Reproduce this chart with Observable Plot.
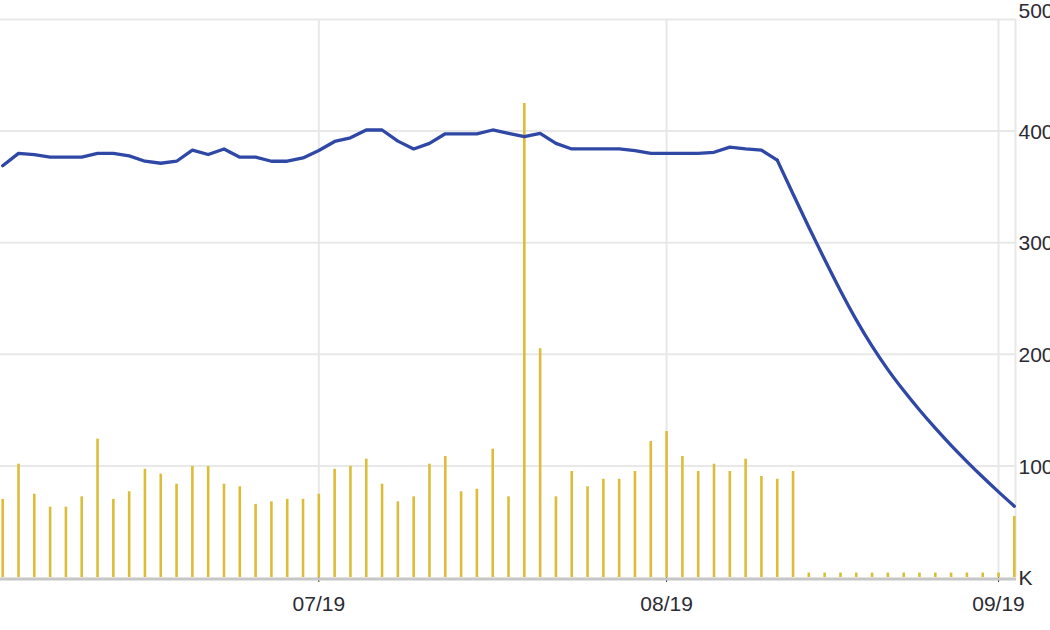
<!DOCTYPE html>
<html>
<head>
<meta charset="utf-8">
<script src="https://cdn.jsdelivr.net/npm/d3@7"></script>
<script src="https://cdn.jsdelivr.net/npm/@observablehq/plot@0.6"></script>
<style>
  html, body { margin: 0; padding: 0; background: #fff; overflow: hidden; }
  #chart svg { display: block; }
</style>
</head>
<body>
<div id="chart"></div>
<script>
// Daily volume bars (thousands), one per trading day
const volume = [
  70, 101.5, 74.6, 63, 63, 72.3, 124, 70, 76.8, 97,
  92.6, 83.6, 99.5, 99.5, 83.6, 81.3, 65.4, 67.8, 70, 70,
  74.6, 97, 99.5, 106, 83.6, 67.8, 72.3, 101.5, 108.4, 76.8,
  79.1, 115, 72.3, 424.7, 205, 72.3, 95, 81.3, 88, 88,
  95, 121.9, 130.8, 108.4, 95, 101.5, 95, 106, 90.5, 88,
  95, 4, 4, 4, 4, 4, 4, 4, 4, 4,
  4, 4, 4, 4, 54.7
];
// Line series, same trading days
const series = [
  369, 380, 379, 376.6, 376.6, 376.6, 380, 380, 377.8, 373,
  371.2, 373, 383, 379, 384, 376.6, 376.6, 373, 373, 376,
  382.6, 390.7, 394, 401, 401, 391, 384, 389, 397.6, 397.6,
  397.6, 401, 398, 395, 398, 389, 384, 384, 384, 384,
  382.6, 380, 380, 380, 380, 381, 385.6, 384, 383, 374,
  343.6, 313.9, 284.9, 257, 230.9, 207.3, 186.3, 167.5, 150.1, 133.8,
  118.4, 103.9, 90, 76.7, 63.9
];
// Index where the smooth decline begins
const declineStart = 49;
// Month ticks (trading-day index of first session) and their labels
const monthTickIndex = [20, 42, 63];
const monthTickLabels = ["07/19", "08/19", "09/19"];
// Right axis
const yTickValues = [0, 100, 200, 300, 400, 500];
const yTickLabels = ["K", "100", "200", "300", "400", "500"];

const rows = volume.map((v, i) => ({i, volume: v, value: series[i]}));
const flatPart = rows.filter(d => d.i <= declineStart);
const declinePart = rows.filter(d => d.i >= declineStart);
const xMin = -0.139, xMax = 64.137;

const gold = "#dcbd3a";
const blue = "#2f47a5";
const grid = "#e8e8e8";
const font = "'Liberation Sans', Arial, sans-serif";

const chart = Plot.plot({
  width: 1050,
  height: 630,
  marginLeft: 0,
  marginRight: 34,
  marginTop: 19,
  marginBottom: 53,
  x: {domain: [xMin, xMax], axis: null, label: null},
  y: {domain: [0, 500], axis: null, label: null},
  style: {fontFamily: font, background: "#fff", overflow: "hidden"},
  marks: [
    Plot.gridY(yTickValues.filter(d => d > 0), {stroke: grid, strokeOpacity: 1, strokeWidth: 2}),
    Plot.gridX(monthTickIndex, {stroke: grid, strokeOpacity: 1, strokeWidth: 2}),
    Plot.ruleX([xMax], {stroke: grid, strokeWidth: 2, dx: -1}),
    Plot.ruleX(rows, {x: "i", y1: 0, y2: "volume", stroke: gold, strokeWidth: 2.6}),
    Plot.line(flatPart, {x: "i", y: "value", stroke: blue, strokeWidth: 3.3, strokeLinejoin: "round", strokeLinecap: "round", curve: "linear"}),
    Plot.line(declinePart, {x: "i", y: "value", stroke: blue, strokeWidth: 3.3, strokeLinejoin: "round", strokeLinecap: "round", curve: "monotone-x"}),
    Plot.axisX(monthTickIndex, {
      tickFormat: (d, k) => monthTickLabels[k],
      tickSize: 5,
      tickPadding: 14,
      stroke: "#333",
      fill: "#2b2b33",
      fontSize: 21,
      label: null
    }),
    Plot.ruleY([0], {stroke: "#c6c6c6", strokeWidth: 3, dy: 1.5}),
    Plot.text(yTickValues.filter(d => d < 500), {
      x: xMax, y: d => d,
      text: d => yTickLabels[yTickValues.indexOf(d)],
      textAnchor: "start", dx: 2, dy: 1,
      fontSize: 21, fill: "#2b2b33"
    }),
    Plot.text(yTickValues.filter(d => d === 500), {
      x: xMax, y: d => d,
      text: d => yTickLabels[yTickValues.indexOf(d)],
      textAnchor: "start", dx: 2, dy: -8,
      fontSize: 21, fill: "#2b2b33"
    })
  ]
});
document.getElementById("chart").appendChild(chart);
</script>
</body>
</html>
